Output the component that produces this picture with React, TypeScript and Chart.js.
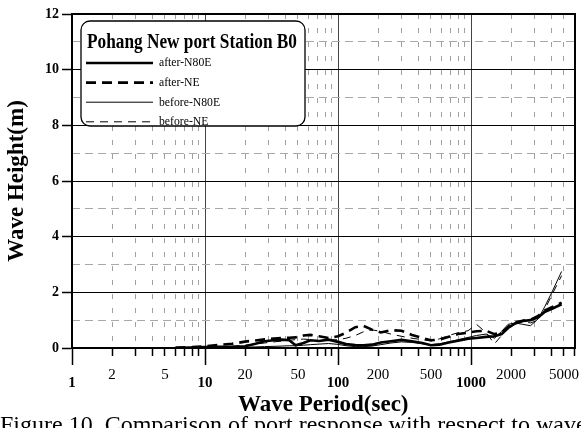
import React, { useEffect, useRef } from 'react';
import { Chart, registerables } from 'chart.js';

Chart.register(...registerables);

const SERIF = "'Liberation Serif', 'Times New Roman', serif";

const periods = [6, 8, 10, 13, 16, 20, 24, 28, 33, 38, 43, 48, 55, 62, 72, 85, 100, 115, 135, 155, 180, 210, 250, 300, 360, 430, 500, 580, 680, 800, 950, 1100, 1300, 1500, 1700, 1900, 2150, 2450, 2800, 3200, 3600, 4100, 4800];

const afterN80E = [0.01, 0.02, 0.03, 0.04, 0.04, 0.06, 0.15, 0.24, 0.28, 0.3, 0.28, 0.1, 0.18, 0.28, 0.25, 0.3, 0.22, 0.14, 0.11, 0.1, 0.12, 0.2, 0.24, 0.29, 0.24, 0.18, 0.1, 0.12, 0.2, 0.26, 0.33, 0.36, 0.4, 0.42, 0.5, 0.72, 0.88, 0.97, 1.0, 1.1, 1.3, 1.42, 1.57];
const afterNE = [0.01, 0.03, 0.06, 0.12, 0.15, 0.23, 0.27, 0.31, 0.34, 0.36, 0.37, 0.38, 0.45, 0.47, 0.42, 0.36, 0.42, 0.55, 0.75, 0.8, 0.66, 0.56, 0.64, 0.62, 0.47, 0.36, 0.28, 0.3, 0.4, 0.5, 0.55, 0.6, 0.62, 0.5, 0.55, 0.75, 0.92, 0.98, 1.02, 1.15, 1.35, 1.48, 1.63];
const beforeN80E = [0, 0.01, 0.01, 0.02, 0.02, 0.03, 0.04, 0.05, 0.06, 0.07, 0.08, 0.08, 0.1, 0.12, 0.14, 0.16, 0.13, 0.08, 0.05, 0.05, 0.07, 0.12, 0.18, 0.22, 0.2, 0.15, 0.12, 0.15, 0.22, 0.3, 0.38, 0.45, 0.5, 0.35, 0.6, 0.85, 0.9, 0.85, 0.8, 1.05, 1.5, 2.05, 2.75];
const beforeNE = [0, 0.01, 0.02, 0.04, 0.06, 0.1, 0.14, 0.18, 0.22, 0.25, 0.28, 0.3, 0.32, 0.3, 0.26, 0.28, 0.3, 0.35, 0.45, 0.58, 0.65, 0.6, 0.5, 0.42, 0.35, 0.3, 0.25, 0.33, 0.45, 0.55, 0.62, 0.85, 0.55, 0.15, 0.45, 0.8, 0.9, 0.95, 0.9, 1.0, 1.4, 1.95, 2.6];

const seriesLabels = ['after-N80E', 'after-NE', 'before-N80E', 'before-NE'];
const legendTitle = 'Pohang New port Station B0';
const xTitle = 'Wave Period(sec)';
const yTitle = 'Wave Height(m)';
const caption = 'Figure 10. Comparison of port response with respect to wave direction';

const xLabelTicks = [1, 2, 5, 10, 20, 50, 100, 200, 500, 1000, 2000, 5000];
const xMinorTicks = [2, 3, 4, 5, 6, 7, 8, 9, 20, 30, 40, 50, 60, 70, 80, 90, 200, 300, 400, 500, 600, 700, 800, 900, 2000, 3000, 4000, 5000, 6000];
const yMajorTicks = [0, 2, 4, 6, 8, 10, 12];
const yMinorTicks = [1, 3, 5, 7, 9, 11];
const X_MIN = 1;
const X_MAX = 6000;
const Y_MIN = 0;
const Y_MAX = 12;

const isDecade = (v: number) => {
  const l = Math.log10(v);
  return Math.abs(l - Math.round(l)) < 1e-9;
};

const toPts = (ys: number[]) => periods.map((x, i) => ({ x, y: ys[i] }));

const boxLegend = {
  id: 'boxLegend',
  afterDraw(chart: any) {
    const ctx = chart.ctx as CanvasRenderingContext2D;
    ctx.save();
    const x0 = 81, y0 = 21, w = 224, h = 105, r = 9;
    ctx.beginPath();
    (ctx as any).roundRect(x0, y0, w, h, r);
    ctx.fillStyle = '#fff';
    ctx.fill();
    ctx.lineWidth = 1.3;
    ctx.strokeStyle = '#000';
    ctx.setLineDash([]);
    ctx.stroke();
    ctx.fillStyle = '#000';
    ctx.textAlign = 'left';
    ctx.textBaseline = 'alphabetic';
    ctx.font = `bold 20px ${SERIF}`;
    ctx.fillText(legendTitle, 87, 48, 210);
    chart.data.datasets.forEach((ds: any, i: number) => {
      const y = 63 + i * 19.6;
      ctx.beginPath();
      ctx.setLineDash(ds.borderDash || []);
      ctx.lineWidth = ds.borderWidth;
      ctx.strokeStyle = '#000';
      ctx.moveTo(86, y);
      ctx.lineTo(153, y);
      ctx.stroke();
      ctx.setLineDash([]);
      ctx.font = `13px ${SERIF}`;
      ctx.textBaseline = 'middle';
      const mw = ctx.measureText(ds.label).width * 0.9;
      ctx.fillText(ds.label, 159, y, mw);
    });
    ctx.restore();
  },
};

export default function App() {
  const ref = useRef<HTMLCanvasElement>(null);
  useEffect(() => {
    if (!ref.current) return;
    const common = { pointRadius: 0, tension: 0, fill: false, borderColor: '#000', xAxisID: 'x', yAxisID: 'y' };
    const chart = new Chart(ref.current, {
      type: 'line',
      data: {
        datasets: [
          { ...common, label: seriesLabels[0], data: toPts(afterN80E), borderWidth: 2.6, borderDash: [] },
          { ...common, label: seriesLabels[1], data: toPts(afterNE), borderWidth: 2.6, borderDash: [10, 6] },
          { ...common, label: seriesLabels[2], data: toPts(beforeN80E), borderWidth: 1, borderDash: [] },
          { ...common, label: seriesLabels[3], data: toPts(beforeNE), borderWidth: 1, borderDash: [8, 6] },
        ] as any,
      },
      options: {
        responsive: false,
        animation: false,
        layout: { padding: { left: 0, right: 6.5, top: 14, bottom: 0 } },
        plugins: { legend: { display: false }, tooltip: { enabled: false }, title: { display: false } },
        scales: {
          x: {
            type: 'logarithmic', position: 'bottom', min: X_MIN, max: X_MAX, weight: 1,
            afterBuildTicks: (s: any) => { s.ticks = xLabelTicks.map((v) => ({ value: v })); },
            afterFit: (s: any) => { s.height = 80; },
            grid: {
              color: (c: any) => (c.tick && isDecade(c.tick.value) ? '#444' : 'rgba(0,0,0,0)'),
              lineWidth: 1, tickLength: 17, tickWidth: 1.5,
              tickColor: (c: any) => (c.tick && isDecade(c.tick.value) ? '#000' : 'rgba(0,0,0,0)'),
              tickBorderDash: [],
            },
            border: { display: true, color: '#000', width: 2 },
            ticks: {
              padding: 1, autoSkip: false, maxRotation: 0, color: '#000',
              font: (c: any) => (c.tick && isDecade(c.tick.value)
                ? { family: SERIF, size: 15, weight: 'bold', lineHeight: '34px' }
                : { family: SERIF, size: 15, weight: 'normal', lineHeight: 1.2 }),
              callback: (v: any) => String(v),
            },
            title: { display: true, text: xTitle, color: '#000', font: { family: SERIF, size: 23, weight: 'bold', lineHeight: 1.2 }, padding: { top: 0, bottom: 9 } },
          },
          xMinor: {
            type: 'logarithmic', position: 'bottom', min: X_MIN, max: X_MAX, weight: 0,
            afterBuildTicks: (s: any) => { s.ticks = xMinorTicks.map((v) => ({ value: v })); },
            afterFit: (s: any) => { s.height = 0; },
            ticks: { display: false },
            grid: { color: '#a0a0a0', lineWidth: 1, drawTicks: true, tickLength: 8, tickColor: '#000', tickWidth: 1.5, tickBorderDash: [] },
            border: { display: false, dash: [5, 9] },
          },
          xT: {
            type: 'logarithmic', position: 'top', min: X_MIN, max: X_MAX,
            afterFit: (s: any) => { s.height = 0; },
            ticks: { display: false },
            grid: { drawOnChartArea: false, drawTicks: false },
            border: { display: true, color: '#000', width: 2 },
          },
          y: {
            type: 'linear', position: 'left', min: Y_MIN, max: Y_MAX, weight: 1,
            afterBuildTicks: (s: any) => { s.ticks = yMajorTicks.map((v) => ({ value: v })); },
            afterFit: (s: any) => { s.width = 72; },
            grid: { color: '#000', lineWidth: 1, tickLength: 10, tickColor: '#000', tickWidth: 1.5, tickBorderDash: [] },
            border: { display: true, color: '#000', width: 2 },
            ticks: { padding: 3, color: '#000', font: { family: SERIF, size: 14, weight: 'bold' } },
            title: { display: true, text: yTitle, color: '#000', font: { family: SERIF, size: 23, weight: 'bold', lineHeight: 1.2 }, padding: { top: 3, bottom: 0 } },
          },
          yMinor: {
            type: 'linear', position: 'left', min: Y_MIN, max: Y_MAX, weight: 0,
            afterBuildTicks: (s: any) => { s.ticks = yMinorTicks.map((v) => ({ value: v })); },
            afterFit: (s: any) => { s.width = 0; },
            ticks: { display: false },
            grid: { color: '#a8a8a8', lineWidth: 1, drawTicks: false },
            border: { display: false, dash: [8, 5] },
          },
          yR: {
            type: 'linear', position: 'right', min: Y_MIN, max: Y_MAX,
            afterFit: (s: any) => { s.width = 0; },
            ticks: { display: false },
            grid: { drawOnChartArea: false, drawTicks: false },
            border: { display: true, color: '#000', width: 2 },
          },
        } as any,
      },
      plugins: [boxLegend],
    });
    return () => chart.destroy();
  }, []);

  return (
    <div style={{ position: 'fixed', left: 0, top: 0, width: 581, height: 428, overflow: 'hidden', background: '#fff' }}>
      <canvas ref={ref} width={581} height={428} style={{ display: 'block' }} />
      <div style={{ position: 'absolute', left: 0, top: 412, fontFamily: SERIF, fontSize: 24, lineHeight: '24px', whiteSpace: 'nowrap', color: '#000' }}>
        {caption}
      </div>
    </div>
  );
}
